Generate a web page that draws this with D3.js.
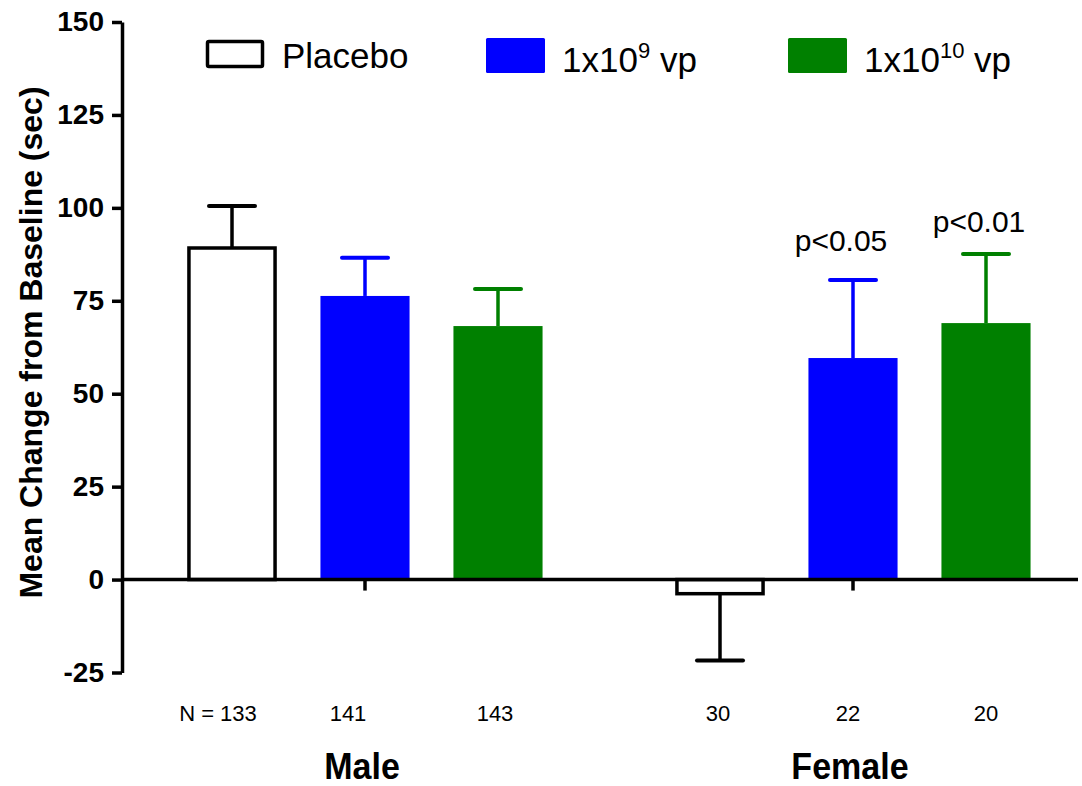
<!DOCTYPE html>
<html>
<head>
<meta charset="utf-8">
<script src="https://cdn.jsdelivr.net/npm/d3@7"></script>
<style>
  html, body { margin: 0; padding: 0; background: #fff; }
  svg { display: block; font-family: "Liberation Sans", Arial, sans-serif; }
</style>
</head>
<body>
<svg id="chart" width="1082" height="786"></svg>
<script>
// ---- data ----
const groups = ["Male", "Female"];
const series = ["Placebo", "1x10^9 vp", "1x10^10 vp"];
const maleMeans = [89.2, 76.3, 68.2];
const femaleMeans = [-3.8, 59.6, 69.0];
const maleErrors = [11.3, 10.3, 10.0];
const femaleErrors = [-18.0, 21.0, 18.6];
const maleN = ["N = 133", "141", "143"];
const femaleN = ["30", "22", "20"];
const yTicks = [-25, 0, 25, 50, 75, 100, 125, 150];
const annotations = [
  { group: "Female", series: "1x10^9 vp", text: "p<0.05" },
  { group: "Female", series: "1x10^10 vp", text: "p<0.01" }
];

// ---- style / layout ----
const colors = { "Placebo": "#ffffff", "1x10^9 vp": "#0000ff", "1x10^10 vp": "#008000" };
const strokes = { "Placebo": "#000000", "1x10^9 vp": "#0000ff", "1x10^10 vp": "#008000" };
const nShift = { "Male": [-14, -17, -3], "Female": [-2, -5, 0] };
const annShift = [{ dx: -12, dy: -29 }, { dx: -7, dy: -22 }];

const rows = [];
groups.forEach((g, gi) => {
  const means = gi === 0 ? maleMeans : femaleMeans;
  const errs = gi === 0 ? maleErrors : femaleErrors;
  const ns = gi === 0 ? maleN : femaleN;
  series.forEach((s, si) => rows.push({ group: g, series: s, mean: means[si], err: errs[si], n: ns[si], si }));
});

const svg = d3.select("#chart");
const axisX = 122, axisRight = 1078;

const y = d3.scaleLinear().domain([-25, 150]).range([672.5, 22]);
const x0 = d3.scaleBand().domain(groups).range([121, 1097]).padding(0);
const x1 = d3.scaleBand().domain(series).range([-199.5, 199.5]).paddingInner(0.33).paddingOuter(0.165);
const cx = d => x0(d.group) + x0.bandwidth() / 2 + x1(d.series) + x1.bandwidth() / 2;
const bw = x1.bandwidth();
const capW = 46;

// bars
svg.append("g").selectAll("rect").data(rows).join("rect")
  .attr("x", d => cx(d) - bw / 2 + (d.series === "Placebo" ? 1.5 : 0))
  .attr("width", d => bw - (d.series === "Placebo" ? 3 : 0))
  .attr("y", d => Math.min(y(d.mean), y(0)))
  .attr("height", d => Math.abs(y(d.mean) - y(0)))
  .attr("fill", d => colors[d.series])
  .attr("stroke", d => d.series === "Placebo" ? "#000" : "none")
  .attr("stroke-width", 3.5);

// error bars
const eb = svg.append("g");
eb.selectAll("line.stem").data(rows).join("line")
  .attr("class", "stem")
  .attr("x1", cx).attr("x2", cx)
  .attr("y1", d => y(d.mean)).attr("y2", d => y(d.mean + d.err))
  .attr("stroke", d => strokes[d.series]).attr("stroke-width", 3.5);
eb.selectAll("line.cap").data(rows).join("line")
  .attr("class", "cap")
  .attr("x1", d => cx(d) - capW / 2).attr("x2", d => cx(d) + capW / 2)
  .attr("y1", d => y(d.mean + d.err)).attr("y2", d => y(d.mean + d.err))
  .attr("stroke", d => strokes[d.series]).attr("stroke-width", 4)
  .attr("stroke-linecap", "round");

// y axis
const yAxis = svg.append("g")
  .attr("transform", `translate(${axisX},0)`)
  .call(d3.axisLeft(y).tickValues(yTicks).tickFormat(d => String(d))
    .tickSize(10).tickSizeOuter(0).tickPadding(8));
yAxis.select(".domain").attr("stroke", "#000").attr("stroke-width", 3.5);
yAxis.selectAll(".tick line").attr("stroke", "#000").attr("stroke-width", 3.5);
yAxis.selectAll(".tick text")
  .attr("fill", "#000")
  .style("font-family", '"Liberation Sans", Arial, sans-serif')
  .style("font-size", "28px").style("font-weight", "bold");

// x axis line at zero
svg.append("line")
  .attr("x1", axisX).attr("x2", axisRight)
  .attr("y1", y(0)).attr("y2", y(0))
  .attr("stroke", "#000").attr("stroke-width", 3.5);
svg.append("g").selectAll("line").data(groups).join("line")
  .attr("x1", g => x0(g) + x0.bandwidth() / 2).attr("x2", g => x0(g) + x0.bandwidth() / 2)
  .attr("y1", y(0)).attr("y2", y(0) + 11)
  .attr("stroke", "#000").attr("stroke-width", 3.5);

// y title
svg.append("text")
  .attr("transform", `translate(42,${(88 + 597) / 2}) rotate(-90)`)
  .attr("text-anchor", "middle")
  .style("font-size", "32px").style("font-weight", "bold")
  .text("Mean Change from Baseline (sec)");

// N labels
svg.append("g").selectAll("text").data(rows).join("text")
  .attr("x", d => cx(d) + nShift[d.group][d.si])
  .attr("y", 721)
  .attr("text-anchor", "middle")
  .style("font-size", "22px")
  .text(d => d.n);

// group labels
svg.append("g").selectAll("text").data(groups).join("text")
  .attr("transform", g => `translate(${x0(g) + x0.bandwidth() / 2 - 3},779) scale(0.92,1)`)
  .attr("text-anchor", "middle")
  .style("font-size", "37px").style("font-weight", "bold")
  .text(g => g);

// annotations
svg.append("g").selectAll("text").data(annotations).join("text")
  .attr("x", (a, i) => cx(rows.find(r => r.group === a.group && r.series === a.series)) + annShift[i].dx)
  .attr("y", (a, i) => { const r = rows.find(r => r.group === a.group && r.series === a.series); return y(r.mean + r.err) + annShift[i].dy; })
  .attr("text-anchor", "middle")
  .style("font-size", "30px")
  .text(a => a.text);

// legend
const legendItems = [
  { s: "Placebo", bx: 207.5, by: 41.5, bw: 55, bh: 25, tx: 282, ty: 68, base: "Placebo", sup: null, rest: null },
  { s: "1x10^9 vp", bx: 486, by: 38, bw: 59, bh: 35, tx: 562, ty: 72, base: "1x10", sup: "9", rest: " vp" },
  { s: "1x10^10 vp", bx: 788, by: 38, bw: 59, bh: 35, tx: 864, ty: 72, base: "1x10", sup: "10", rest: " vp" }
];
const lg = svg.append("g");
legendItems.forEach(it => {
  lg.append("rect")
    .attr("x", it.bx).attr("y", it.by).attr("width", it.bw).attr("height", it.bh)
    .attr("rx", 1.5)
    .attr("fill", colors[it.s])
    .attr("stroke", it.s === "Placebo" ? "#000" : "none")
    .attr("stroke-width", 3.5);
  const t = lg.append("text").attr("x", it.tx).attr("y", it.ty).style("font-size", "35px");
  t.append("tspan").text(it.base);
  if (it.sup) {
    t.append("tspan").attr("dy", -14).style("font-size", "22px").text(it.sup);
    t.append("tspan").attr("dy", 14).text(it.rest);
  }
});
</script>
</body>
</html>
